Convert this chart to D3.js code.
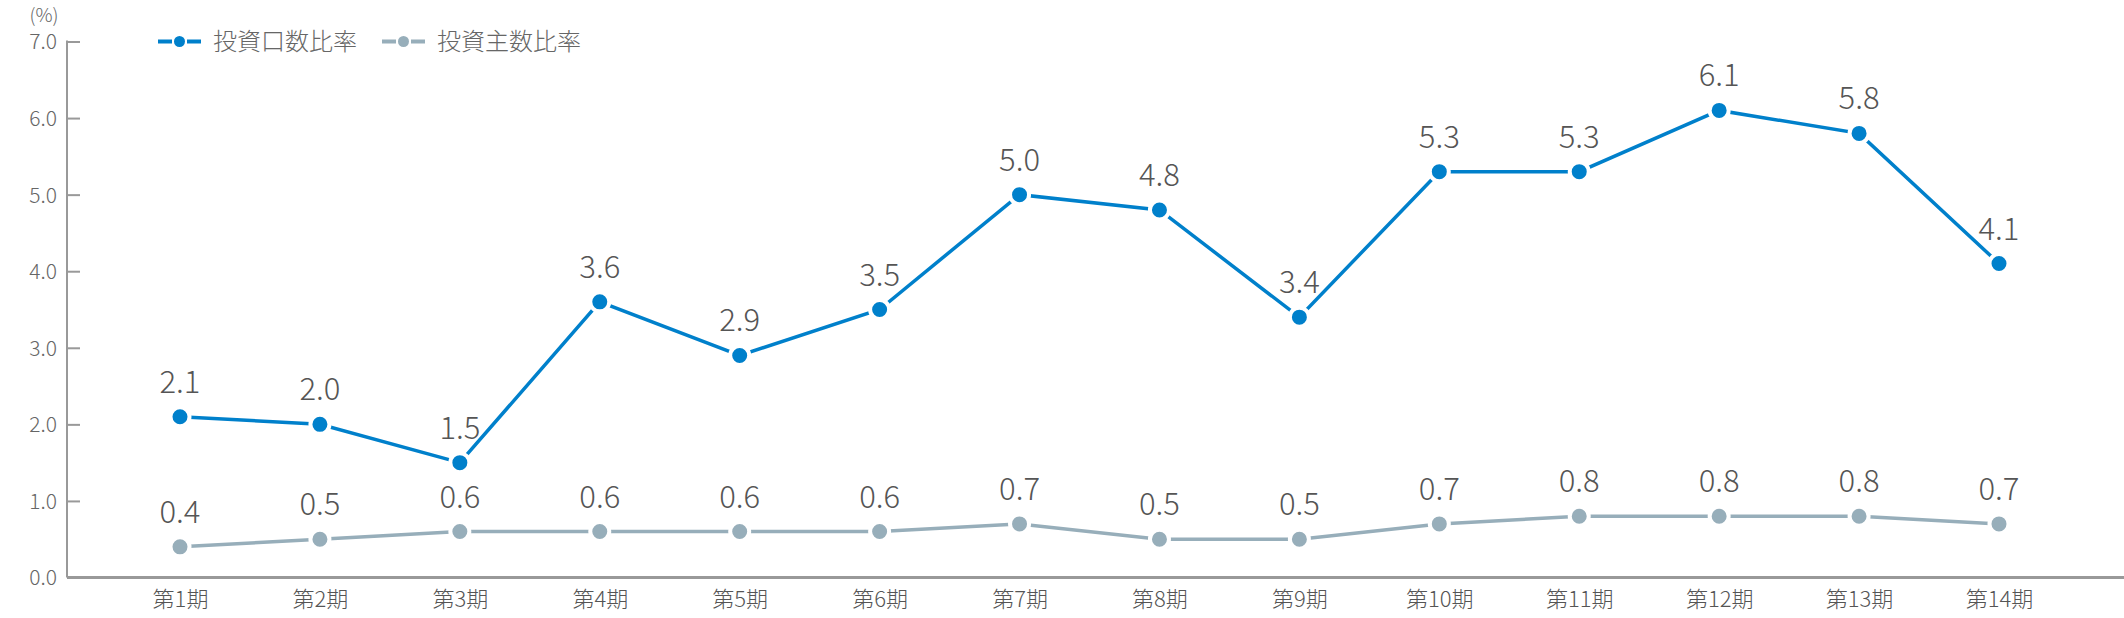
<!DOCTYPE html>
<html>
<head>
<meta charset="utf-8">
<script src="https://cdn.jsdelivr.net/npm/d3@7"></script>
<style>
  body { margin: 0; background: #fff; }
  text { font-family: "Noto Sans CJK JP Light", "Noto Sans CJK JP", "Noto Sans", sans-serif; }
</style>
</head>
<body>
<script>
// data
var periods = ['第1期','第2期','第3期','第4期','第5期','第6期','第7期','第8期','第9期','第10期','第11期','第12期','第13期','第14期'];
var kouzaRatio = [2.1, 2.0, 1.5, 3.6, 2.9, 3.5, 5.0, 4.8, 3.4, 5.3, 5.3, 6.1, 5.8, 4.1];
var nushiRatio = [0.4, 0.5, 0.6, 0.6, 0.6, 0.6, 0.7, 0.5, 0.5, 0.7, 0.8, 0.8, 0.8, 0.7];
var seriesNames = ['投資口数比率', '投資主数比率'];
var seriesColors = ['#0080cb', '#97aeba'];
var yTicks = [0, 1, 2, 3, 4, 5, 6, 7];

var width = 2124, height = 618;
var axis_x = 67, axis_y = 577.5, top_y = 41.5;

var svg = d3.select('body').append('svg')
	.attr('width', width)
	.attr('height', height);

var xScale = d3.scalePoint()
	.domain(periods)
	.range([180, 1999]);

var yScale = d3.scaleLinear()
	.domain([0, 7])
	.range([axis_y, top_y]);

// y axis
var yAxis = d3.axisRight(yScale)
	.tickValues(yTicks)
	.tickSize(13)
	.tickFormat(d3.format('.1f'));

var yg = svg.append('g')
	.attr('transform', 'translate(' + axis_x + ',0)')
	.call(yAxis);
yg.select('.domain').remove();
yg.selectAll('.tick line').attr('stroke', '#999').attr('stroke-width', 2);
yg.selectAll('.tick text')
	.attr('x', -10)
	.attr('text-anchor', 'end')
	.attr('fill', '#666')
	.attr('font-size', '21px')
	.attr('font-weight', 300)
	.attr('dy', '0.35em');

svg.append('line')
	.attr('x1', axis_x).attr('x2', axis_x)
	.attr('y1', top_y - 1).attr('y2', axis_y)
	.attr('stroke', '#999').attr('stroke-width', 2);

// x axis
var xAxis = d3.axisBottom(xScale).tickSize(0).tickPadding(14);
var xg = svg.append('g')
	.attr('transform', 'translate(0,' + axis_y + ')')
	.call(xAxis);
xg.select('.domain').remove();
xg.selectAll('.tick text')
	.attr('fill', '#555')
	.attr('font-size', '22px')
	.attr('font-weight', 300);

svg.append('line')
	.attr('x1', axis_x).attr('x2', width)
	.attr('y1', axis_y).attr('y2', axis_y)
	.attr('stroke', '#999').attr('stroke-width', 3);

// unit label
svg.append('text')
	.text('(%)')
	.attr('x', 44).attr('y', 22)
	.attr('text-anchor', 'middle')
	.attr('fill', '#666')
	.attr('font-size', '19px')
	.attr('font-weight', 300);

// series
var series = [nushiRatio, kouzaRatio];
var colors = [seriesColors[1], seriesColors[0]];

var line = d3.line()
	.x(function(d, i){ return xScale(periods[i]); })
	.y(function(d){ return yScale(d); });

series.forEach(function(values, s){
	var g = svg.append('g');
	g.append('path')
		.datum(values)
		.attr('d', line)
		.attr('fill', 'none')
		.attr('stroke', colors[s])
		.attr('stroke-width', 3.5);

	g.selectAll('circle')
		.data(values)
		.enter()
		.append('circle')
		.attr('cx', function(d, i){ return xScale(periods[i]); })
		.attr('cy', function(d){ return yScale(d); })
		.attr('r', 9.5)
		.attr('fill', colors[s])
		.attr('stroke', '#fff')
		.attr('stroke-width', 4);

	g.selectAll('.val')
		.data(values)
		.enter()
		.append('text')
		.attr('class', 'val')
		.text(function(d){ return d.toFixed(1); })
		.attr('x', function(d, i){ return xScale(periods[i]); })
		.attr('y', function(d){ return yScale(d) - 24; })
		.attr('text-anchor', 'middle')
		.attr('fill', '#555')
		.attr('font-size', '31px')
		.attr('font-weight', 300);
});

// legend
var legendX = [158, 382];
seriesNames.forEach(function(name, i){
	var lg = svg.append('g').attr('transform', 'translate(' + legendX[i] + ',' + top_y + ')');
	lg.append('line')
		.attr('x1', 0).attr('x2', 43)
		.attr('y1', 0).attr('y2', 0)
		.attr('stroke', seriesColors[i])
		.attr('stroke-width', 4)
		.attr('stroke-dasharray', '14,4,7,4,14');
	lg.append('circle')
		.attr('cx', 21.5).attr('cy', 0)
		.attr('r', 5.5)
		.attr('fill', seriesColors[i]);
	lg.append('text')
		.text(name)
		.attr('x', 55).attr('y', 0)
		.attr('dy', '0.35em')
		.attr('fill', '#666')
		.attr('font-size', '24px')
		.attr('font-weight', 300);
});
</script>
</body>
</html>
